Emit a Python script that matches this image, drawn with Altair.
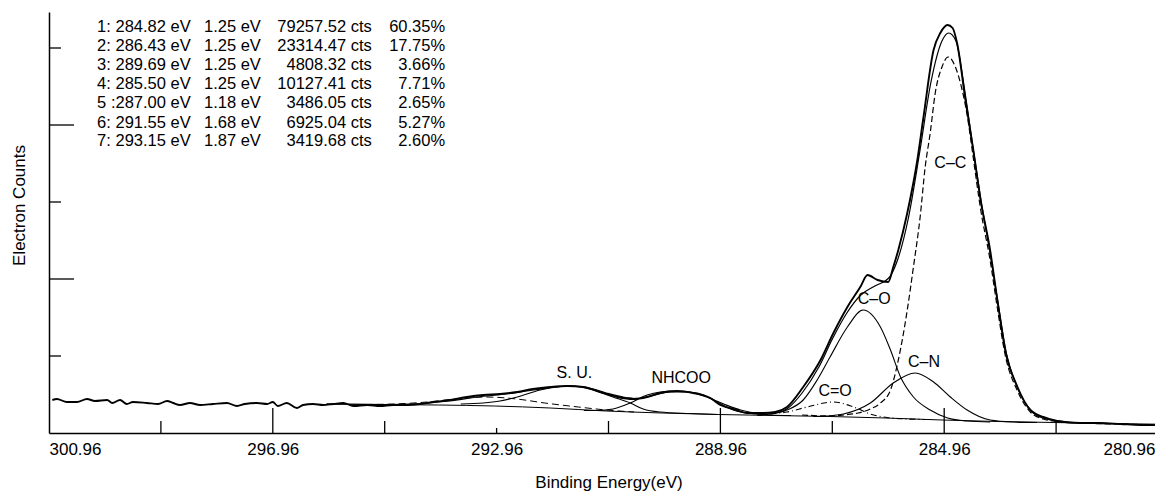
import altair as alt
import pandas as pd

# ---------------- data (binding energy in eV, counts in arbitrary units) -------------
raw_be = [300.90, 300.82, 300.64, 300.46, 300.28, 300.14, 299.92, 299.83, 299.69, 299.57,
          299.46, 299.21, 299.01, 298.85, 298.74, 298.62, 298.44, 298.26, 298.03, 297.78,
          297.60, 297.46, 297.24, 297.06, 296.96, 296.87, 296.71, 296.53, 296.42, 296.24,
          296.06, 295.88, 295.70, 295.52, 295.27, 295.04, 294.81, 294.56, 294.33, 294.09,
          293.79, 293.49, 293.20, 292.90, 292.59, 292.31, 292.00, 291.70, 291.41, 291.11,
          290.80, 290.52, 290.27, 290.04, 289.73, 289.45, 289.14, 288.96, 288.73, 288.48,
          288.19, 287.98, 287.77, 287.48, 287.17, 286.94, 286.69, 286.46, 286.33, 286.15,
          285.96, 285.87, 285.78, 285.62, 285.44, 285.33, 285.15, 285.03, 284.90, 284.81,
          284.73, 284.58, 284.44, 284.31, 284.14, 284.01, 283.87, 283.65, 283.42, 283.19,
          282.94, 282.53, 282.17, 281.81, 281.45, 281.10]
raw_cts = [33, 34, 31, 31, 34, 32, 33, 30, 33, 29,
           31, 30, 29, 32, 30, 28, 30, 28, 29, 30,
           27, 29, 30, 29, 31, 27, 30, 25, 28, 29,
           28, 29, 30, 27, 28, 27, 28, 28, 29, 31,
           33, 36, 38, 39, 41, 44, 46, 47, 46, 41,
           36, 34, 36, 40, 42, 40, 35, 28, 24, 20,
           20, 21, 26, 46, 73, 100, 126, 146, 158, 153,
           151, 166, 183, 220, 273, 316, 383, 400, 408, 405,
           390, 333, 283, 233, 183, 133, 83, 46, 23, 16,
           12, 10, 10, 9, 8, 8]

fit_be = [296.0, 295.0, 294.3, 293.8, 293.3, 292.8, 292.3, 291.9, 291.6, 291.3, 291.0, 290.7,
          290.45, 290.2, 289.85, 289.55, 289.2, 288.9, 288.6, 288.3, 288.0, 287.75, 287.5,
          287.2, 286.95, 286.7, 286.45, 286.2, 285.95, 285.8, 285.6, 285.4, 285.2, 285.0,
          284.88, 284.75, 284.6, 284.45, 284.3, 284.15, 284.0, 283.85, 283.65, 283.4, 283.2,
          282.9, 282.5, 281.1]
fit_cts = [29, 28.5, 29.5, 32, 36, 39, 43, 46, 47, 45, 40, 36,
           34.5, 37, 41, 41, 36, 29, 23, 20, 20, 25, 40,
           66, 95, 120, 138, 147, 155, 172, 215, 280, 350, 392,
           400, 392, 345, 287, 232, 183, 131, 80, 45, 22, 15,
           12, 10, 8.5]

cc_be = [287.5, 287.0, 286.76, 286.5, 286.28, 286.10, 285.92, 285.78, 285.62, 285.51, 285.39,
         285.30, 285.21, 285.12, 285.00, 284.89, 284.76, 284.67, 284.55, 284.44, 284.31,
         284.14, 284.01, 283.87, 283.65, 283.42, 283.19, 282.94, 282.53, 281.81, 281.10]
cc_cts = [18, 17, 18, 20, 24, 30, 43, 73, 123, 166, 216,
          266, 300, 340, 366, 376, 366, 350, 318, 275, 224,
          173, 125, 78, 42, 21, 14, 11.5, 10, 9, 8]

co_be = [288.3, 288.07, 287.77, 287.48, 287.23, 287.00, 286.69, 286.41, 286.10, 285.92,
         285.74, 285.51, 285.21, 284.90, 284.55, 284.14]
co_cts = [18, 19, 23, 33, 53, 76, 106, 123, 106, 83,
          56, 36, 23, 15, 12, 11]

cn_be = [287.3, 287.05, 286.76, 286.28, 285.87, 285.48, 285.15, 284.85, 284.55, 284.14, 283.72, 283.3]
cn_cts = [16.5, 17, 19, 30, 50, 60, 51, 36, 23, 13, 11, 10.5]

cdo_be = [288.3, 288.07, 287.77, 287.41, 286.94, 286.58, 286.28, 285.98, 285.62, 285.3]
cdo_cts = [17.5, 19, 21, 26, 31, 26, 19, 15.5, 14, 13.5]

nh_be = [291.4, 291.16, 290.88, 290.57, 290.27, 289.80, 289.37, 289.02, 288.73, 288.48, 288.07, 287.7]
nh_cts = [22.5, 22.5, 24, 30, 38, 42, 40, 31, 23, 20, 18, 17.5]

su_be = [293.6, 293.20, 292.90, 292.59, 292.18, 291.64, 291.23, 290.88, 290.57, 290.34, 290.04, 289.50, 289.0]
su_cts = [29, 30, 32, 36, 43, 47, 43, 36, 30, 24, 21, 19.5, 18.5]

p7_be = [295.3, 294.8, 294.2, 293.7, 293.15, 292.6, 292.1, 291.5, 291.0, 290.5]
p7_cts = [28.5, 29, 31, 34, 36, 34, 30, 26, 23, 21]

bg_be = [296.0, 295.0, 294.0, 293.0, 292.0, 291.0, 290.0, 289.0, 288.0, 287.0, 286.0,
         285.0, 284.0, 283.0, 282.0, 281.1]
bg_cts = [29, 28.5, 28, 27, 25, 22, 20, 18.5, 17.5, 16.5, 15, 13, 11.5, 10.5, 9.5, 8.5]

# peak labels
lab_text = ["C\u2013C", "C\u2013O", "C\u2013N", "C=O", "NHCOO", "S. U."]
lab_be = [284.85, 286.21, 285.32, 286.91, 289.66, 291.57]
lab_cts = [270, 134, 71, 42, 55, 60]

# fit table
tab_col1 = ["1: 284.82 eV", "2: 286.43 eV", "3: 289.69 eV", "4: 285.50 eV",
            "5 :287.00 eV", "6: 291.55 eV", "7: 293.15 eV"]
tab_fwhm = [1.25, 1.25, 1.25, 1.25, 1.18, 1.68, 1.87]
tab_area = [79257.52, 23314.47, 4808.32, 10127.41, 3486.05, 6925.04, 3419.68]
tab_pct = [60.35, 17.75, 3.66, 7.71, 2.65, 5.27, 2.60]
tab_rows_cts = [406, 387, 368, 349, 330, 310, 292]
tab_cols_be = [300.10, 298.19, 295.19, 293.88]

# axes
x_label_vals = [300.96, 296.96, 292.96, 288.96, 284.96, 280.96]
x_ticks_long = [296.96, 288.96, 284.96]
x_ticks_short = [298.96, 294.96, 290.96, 286.96, 282.96]
x_ticks_tiny = [292.96]
y_ticks_long = [154, 308]
y_ticks_short = [77, 231, 385]

# ---------------- chart -------------
FONT = "Liberation Sans"
H = 421

x_scale = alt.Scale(domain=[300.96, 280.96], range=[0, 1119], nice=False, zero=False)
y_scale = alt.Scale(domain=[0, H], nice=False, zero=True)

x_axis = alt.Axis(values=x_label_vals, format=".2f", title="Binding Energy(eV)",
                  ticks=False, grid=False, domainColor="black", domainWidth=1.5,
                  labelFont=FONT, labelFontSize=17, labelColor="black", labelPadding=8,
                  labelFlush=True, labelOverlap=False,
                  labelOffset={"condition": {"test": "datum.value < 281", "value": -13}, "value": 0},
                  titleFont=FONT, titleFontSize=17, titleFontWeight="normal", titleColor="black",
                  titlePadding=17)
y_axis = alt.Axis(title="Electron Counts", labels=False, ticks=False, grid=False,
                  domainColor="black", domainWidth=1.5,
                  titleFont=FONT, titleFontSize=17, titleFontWeight="normal", titleColor="black",
                  titlePadding=21, titleY=193)


def X(field="be"):
    return alt.X(f"{field}:Q", scale=x_scale, axis=x_axis)


def Y(field="cts"):
    return alt.Y(f"{field}:Q", scale=y_scale, axis=y_axis)


def curve(be, cts, width=1.1, dash=None, interp="monotone"):
    df = pd.DataFrame({"be": be, "cts": cts})
    kw = dict(color="black", strokeWidth=width, interpolate=interp, clip=True)
    if dash:
        kw["strokeDash"] = dash
    return alt.Chart(df).mark_line(**kw).encode(x=X(), y=Y(), order=alt.Order("idx:Q")) \
        .transform_window(idx="row_number()")


layers = [
    curve(bg_be, bg_cts, 1.0),
    curve(p7_be, p7_cts, 1.0, [7, 4]),
    curve(su_be, su_cts, 1.1),
    curve(nh_be, nh_cts, 1.1),
    curve(cdo_be, cdo_cts, 1.1, [6, 3, 1, 3]),
    curve(cn_be, cn_cts, 1.1),
    curve(co_be, co_cts, 1.1),
    curve(cc_be, cc_cts, 1.2, [6, 3]),
    curve(fit_be, fit_cts, 1.2),
    curve(raw_be, raw_cts, 1.9),
]

# axis ticks drawn inward
def xticks(vals, length):
    df = pd.DataFrame({"be": vals})
    return alt.Chart(df).mark_rule(color="black", strokeWidth=1.3).encode(
        x=X(), y=alt.value(H), y2=alt.value(H - length))


def yticks(vals, length):
    df = pd.DataFrame({"cts": vals})
    return alt.Chart(df).mark_rule(color="black", strokeWidth=1.3).encode(
        y=Y(), x=alt.value(0), x2=alt.value(length))


layers += [xticks(x_ticks_long, 25), xticks(x_ticks_short, 12), xticks(x_ticks_tiny, 5),
           yticks(y_ticks_long, 25), yticks(y_ticks_short, 12)]

# peak labels
lab_df = pd.DataFrame({"be": lab_be, "cts": lab_cts, "text": lab_text})
layers.append(alt.Chart(lab_df).mark_text(font=FONT, fontSize=16, color="black",
                                          baseline="middle", align="center").encode(
    x=X(), y=Y(), text="text:N"))

# fit table
rows = []
for i in range(len(tab_col1)):
    rows.append({"be": tab_cols_be[0], "cts": tab_rows_cts[i], "text": tab_col1[i], "col": "a"})
    rows.append({"be": tab_cols_be[1], "cts": tab_rows_cts[i], "text": f"{tab_fwhm[i]:.2f} eV", "col": "b"})
    rows.append({"be": tab_cols_be[2], "cts": tab_rows_cts[i], "text": f"{tab_area[i]:.2f} cts", "col": "c"})
    rows.append({"be": tab_cols_be[3], "cts": tab_rows_cts[i], "text": f"{tab_pct[i]:.2f}%", "col": "d"})
tab_df = pd.DataFrame(rows)
for col, align in [("a", "left"), ("b", "left"), ("c", "right"), ("d", "right")]:
    layers.append(alt.Chart(tab_df[tab_df["col"] == col]).mark_text(
        font=FONT, fontSize=16.5, color="black", baseline="middle", align=align).encode(
        x=X(), y=Y(), text="text:N"))

chart = alt.layer(*layers).properties(
    width=1106, height=H,
    autosize=alt.AutoSizeParams(type="none"),
    padding={"left": 49, "top": 12, "right": 0, "bottom": 59},
    background="white",
).configure_view(stroke=None)

chart.save("out.html", embed_options={"renderer": "svg", "actions": False})
